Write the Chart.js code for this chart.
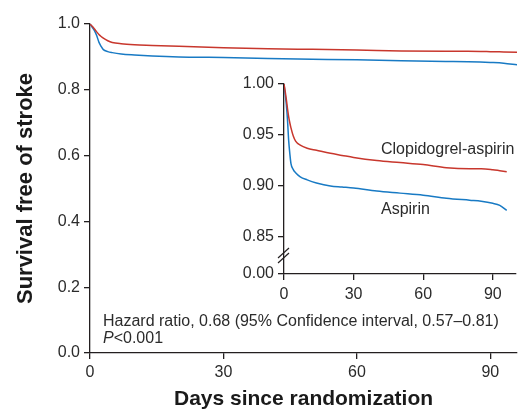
<!DOCTYPE html>
<html><head><meta charset="utf-8">
<script src="https://cdn.jsdelivr.net/npm/chart.js@4.4.0/dist/chart.umd.min.js"></script>
<style>
html,body{margin:0;padding:0;background:#fff;}
#wrap{position:relative;width:520px;height:410px;overflow:hidden;}
</style></head><body>
<div id="wrap">
<canvas id="main" width="520" height="410" style="position:absolute;left:0;top:0;width:520px;height:410px"></canvas>
<canvas id="inset" width="290" height="250" style="position:absolute;left:230px;top:60px;width:290px;height:250px"></canvas>
</div>
<script>
// ---- data ----
const days = [0, 0.5, 1, 1.5, 2, 2.5, 3, 4, 5, 7, 10, 14, 20, 25, 30, 40, 50, 60, 70, 80, 85, 90, 93, 96];
const clopidogrelAspirin = [1.000, 0.993, 0.985, 0.976, 0.968, 0.962, 0.957, 0.949, 0.944, 0.940, 0.937, 0.935, 0.932, 0.930, 0.928, 0.925, 0.923, 0.921, 0.918, 0.917, 0.917, 0.916, 0.915, 0.914];
const aspirin = [1.000, 0.990, 0.980, 0.965, 0.945, 0.932, 0.922, 0.916, 0.913, 0.909, 0.906, 0.903, 0.900, 0.899, 0.898, 0.895, 0.893, 0.891, 0.888, 0.886, 0.885, 0.883, 0.881, 0.876];
const seriesNames = ['Clopidogrel-aspirin', 'Aspirin'];
const mainXTicks = [0, 30, 60, 90];
const mainYTicks = [0, 0.2, 0.4, 0.6, 0.8, 1.0];
const insetXTicks = [0, 30, 60, 90];
const insetYTicks = [0.85, 0.90, 0.95, 1.00];
const insetBreakValue = 0.8137; // bottom of inset axis, labelled 0.00
const insetBottomLabel = '0.00';
const hazardText = 'Hazard ratio, 0.68 (95% Confidence interval, 0.57\u20130.81)';
const pItalic = 'P';
const pText = '<0.001';
const xTitle = 'Days since randomization';
const yTitle = 'Survival free of stroke';

// ---- styles ----
const FONT = "'Liberation Sans', Arial, Helvetica, sans-serif";
const INK = '#231f20';
const TXT = '#2b2b2b';
const RED = 'rgb(200,55,45)';
const BLUE = 'rgb(24,122,196)';
const TICK = 16;

function pts(ys){ return days.map((d,i)=>({x:d, y:ys[i]})); }
function mkDatasets(){
  return [
    {label: seriesNames[0], data: pts(clopidogrelAspirin), borderColor: RED, borderWidth: 1.5, pointRadius: 0, fill:false, cubicInterpolationMode:'monotone'},
    {label: seriesNames[1], data: pts(aspirin), borderColor: BLUE, borderWidth: 1.5, pointRadius: 0, fill:false, cubicInterpolationMode:'monotone'}
  ];
}
function axisStyle(){
  return {
    grid: {display:true, drawOnChartArea:false, drawTicks:true, tickLength:6, color:INK, lineWidth:1.3},
    border: {display:true, color:INK, width:1.3}
  };
}

const mainAnno = {
  id:'mainAnno',
  afterDraw(chart){
    const ctx = chart.ctx; const ca = chart.chartArea;
    ctx.save();
    ctx.fillStyle = TXT; ctx.textBaseline = 'middle'; ctx.textAlign='left';
    const x0 = ca.left + 13;
    ctx.font = TICK + 'px ' + FONT;
    ctx.fillText(hazardText, x0, 322);
    ctx.font = 'italic ' + TICK + 'px ' + FONT;
    ctx.fillText(pItalic, x0, 339);
    const w = ctx.measureText(pItalic).width;
    ctx.font = TICK + 'px ' + FONT;
    ctx.fillText(pText, x0 + w, 339);
    ctx.restore();
  }
};

new Chart(document.getElementById('main'), {
  type:'line',
  data:{datasets: mkDatasets()},
  options:{
    responsive:false, animation:false, events:[],
    layout:{padding:{top:24,right:3,bottom:0,left:0}},
    plugins:{legend:{display:false}, tooltip:{enabled:false}},
    scales:{
      x: Object.assign({type:'linear', min:0, max:96,
        afterBuildTicks: s => { s.ticks = mainXTicks.map(v=>({value:v})); },
        afterFit: s => { s.height = 57; },
        ticks:{font:{family:FONT,size:TICK}, color:TXT, padding:4, maxRotation:0, callback:v=>String(v)},
        title:{display:true, text:xTitle, color:'#1a1a1a', font:{family:FONT,size:21,weight:'bold'}, padding:{top:0,bottom:-1.5}}
      }, axisStyle()),
      y: Object.assign({type:'linear', min:0, max:1,
        afterBuildTicks: s => { s.ticks = mainYTicks.map(v=>({value:v})); },
        afterFit: s => { s.width = 90; },
        ticks:{font:{family:FONT,size:TICK}, color:TXT, padding:4, callback:v=>v.toFixed(1)},
        title:{display:true, text:yTitle, color:'#1a1a1a', font:{family:FONT,size:22,weight:'bold'}, padding:{top:12.8,bottom:0}}
      }, axisStyle())
    }
  },
  plugins:[mainAnno]
});

const insetAnno = {
  id:'insetAnno',
  afterDraw(chart){
    const ctx = chart.ctx; const xs = chart.scales.x; const ys = chart.scales.y;
    ctx.save();
    // axis break marks
    const ax = chart.chartArea.left;
    const cy = (ys.getPixelForValue(insetYTicks[0]) + ys.getPixelForValue(insetBreakValue)) / 2;
    ctx.strokeStyle = INK; ctx.lineWidth = 1.2;
    [-2.5, 2.5].forEach(off => {
      ctx.beginPath();
      ctx.moveTo(ax - 6, cy + 5 + off);
      ctx.lineTo(ax + 5, cy - 5 + off);
      ctx.stroke();
    });
    // series labels
    ctx.fillStyle = TXT; ctx.textBaseline='middle'; ctx.textAlign='left';
    ctx.font = TICK + 'px ' + FONT;
    ctx.fillText(seriesNames[0], xs.getPixelForValue(41.8), ys.getPixelForValue(0.936));
    ctx.fillText(seriesNames[1], xs.getPixelForValue(41.8), ys.getPixelForValue(0.8765));
    ctx.restore();
  }
};

new Chart(document.getElementById('inset'), {
  type:'line',
  data:{datasets: mkDatasets()},
  options:{
    responsive:false, animation:false, events:[],
    layout:{padding:{top:24,right:4,bottom:0,left:0}},
    plugins:{legend:{display:false}, tooltip:{enabled:false}},
    scales:{
      x: Object.assign({type:'linear', min:0, max:100,
        afterBuildTicks: s => { s.ticks = insetXTicks.map(v=>({value:v})); },
        afterFit: s => { s.height = 36; },
        ticks:{font:{family:FONT,size:TICK}, color:TXT, padding:5, maxRotation:0, callback:v=>String(v)}
      }, axisStyle()),
      y: Object.assign({type:'linear', min:insetBreakValue, max:1,
        afterBuildTicks: s => { s.ticks = [insetBreakValue].concat(insetYTicks).map(v=>({value:v})); },
        afterFit: s => { s.width = 54; },
        ticks:{font:{family:FONT,size:TICK}, color:TXT, padding:4, callback:v => (v === insetBreakValue ? insetBottomLabel : v.toFixed(2))}
      }, axisStyle())
    }
  },
  plugins:[insetAnno]
});
</script>
</body></html>
